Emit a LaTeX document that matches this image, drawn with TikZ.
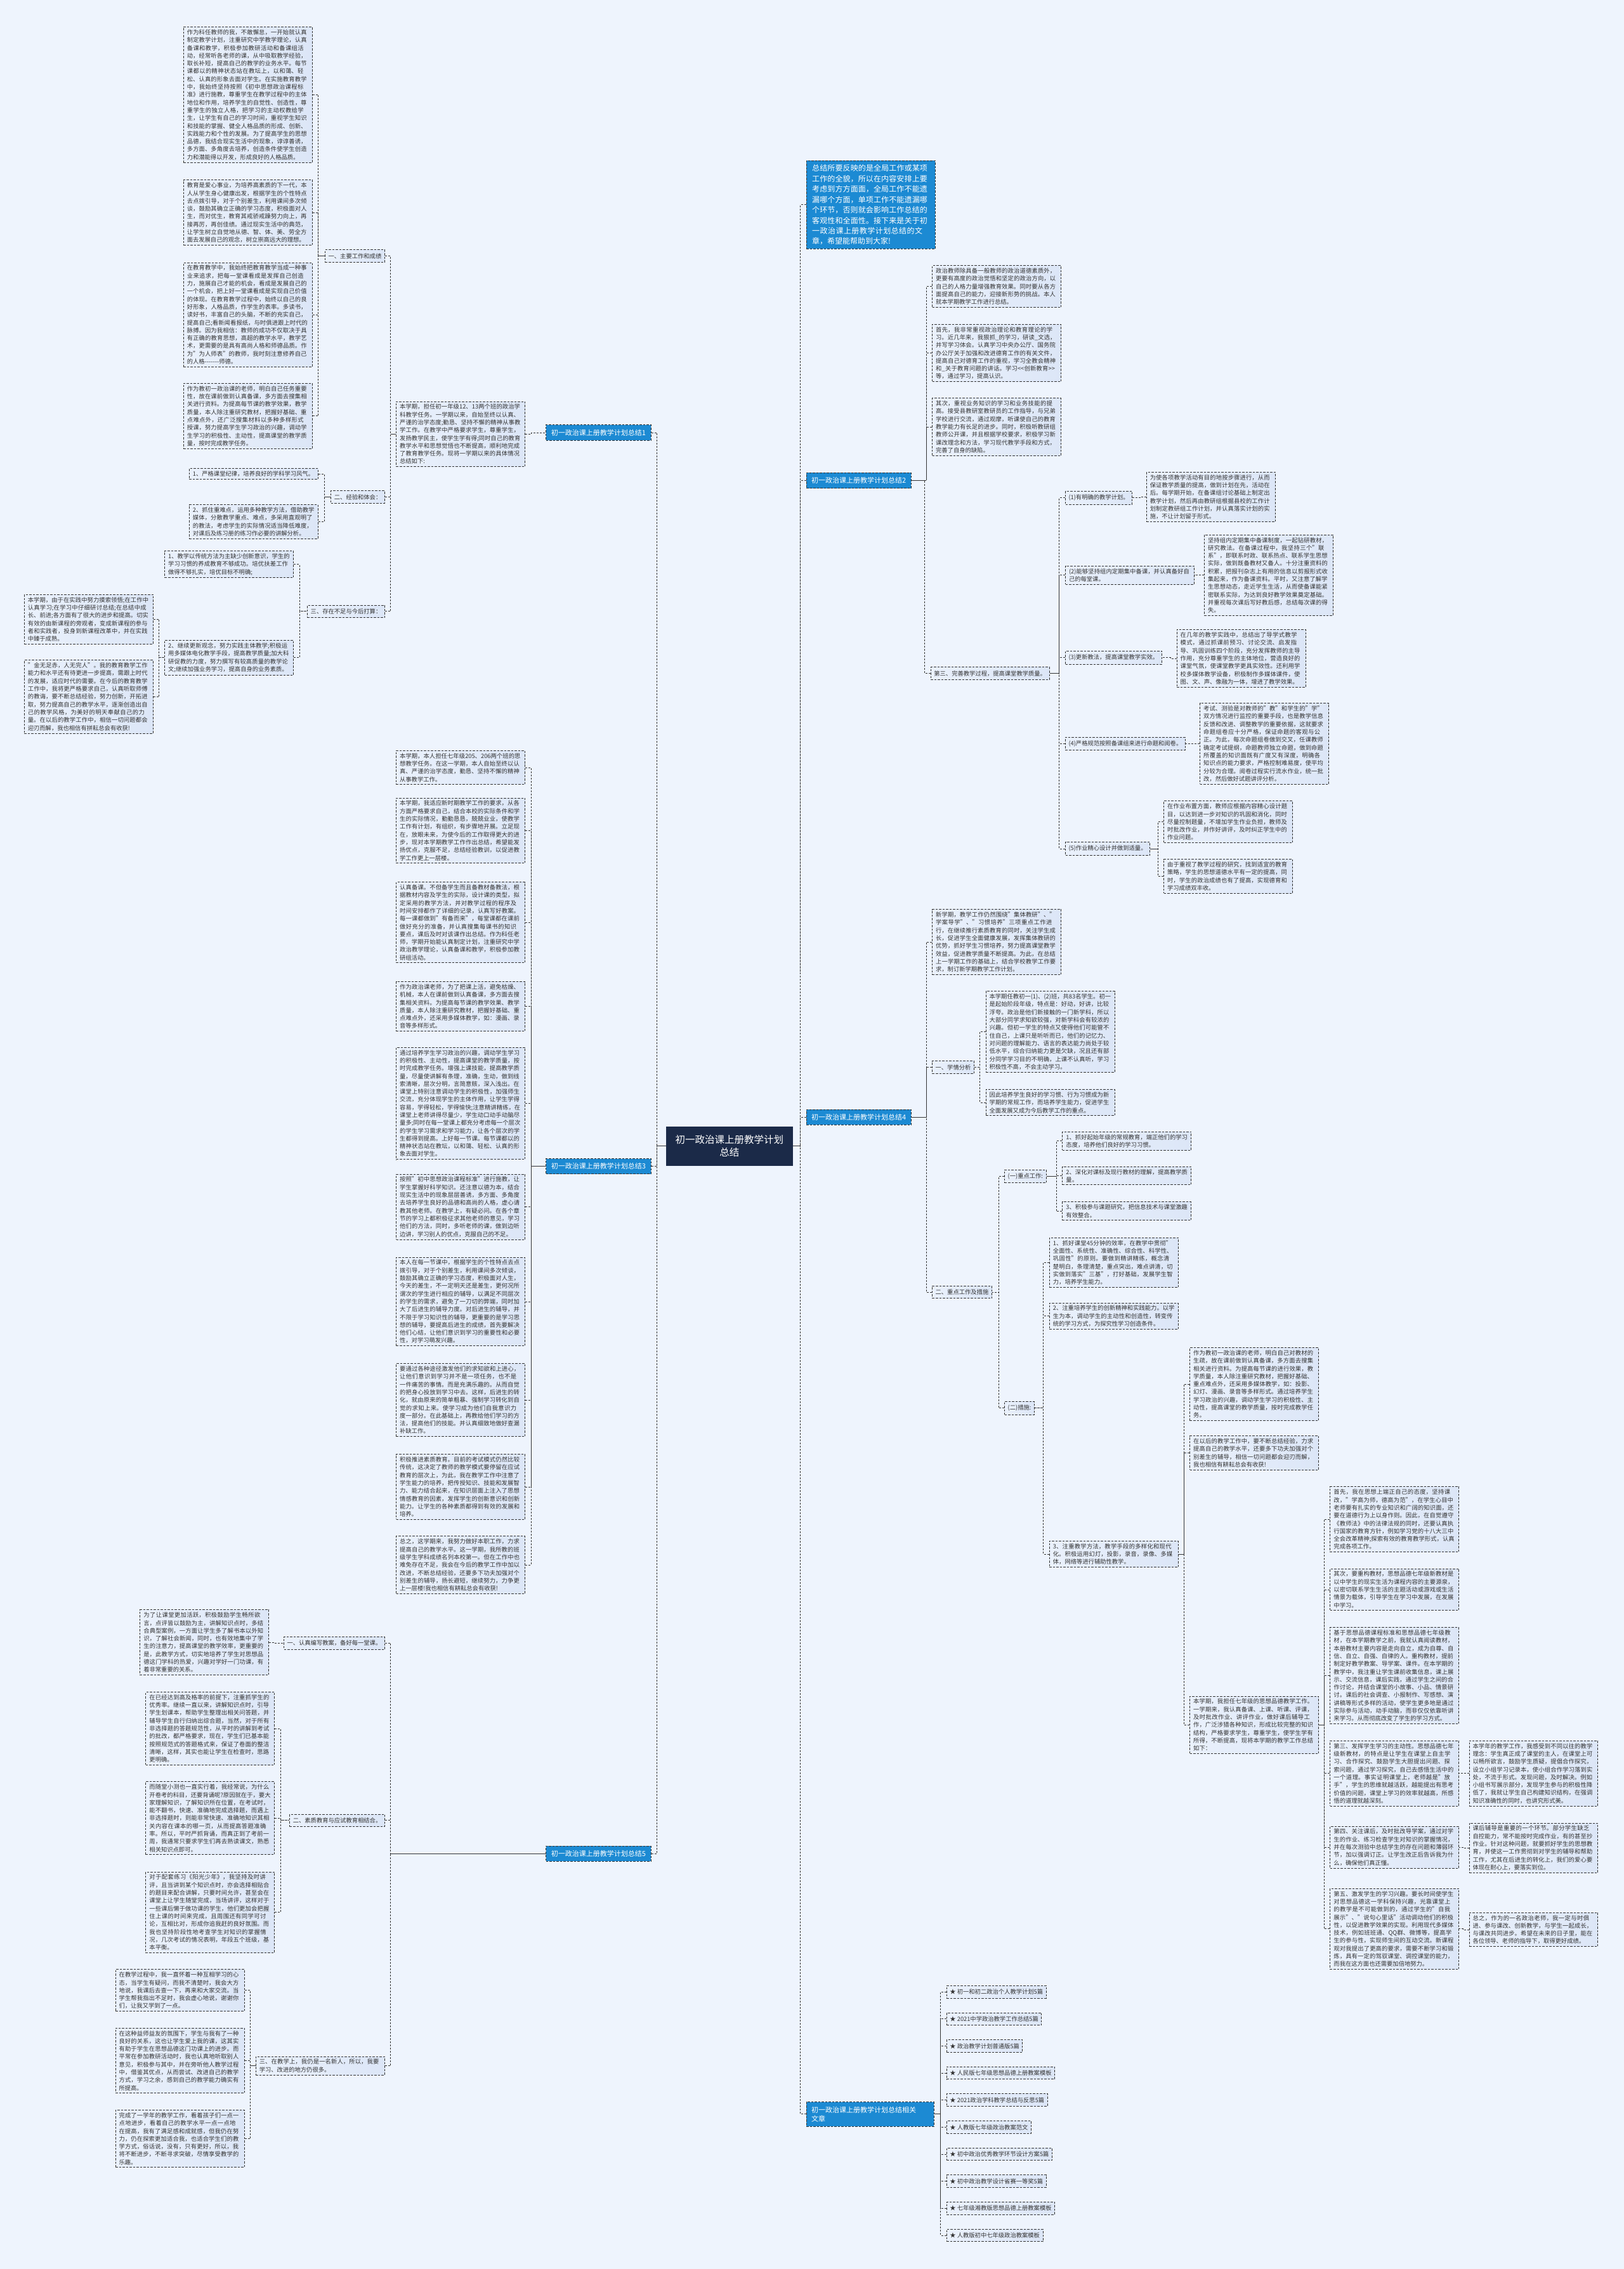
\documentclass[tikz,border=0pt]{standalone}
\usepackage{fontspec}
\setmainfont{Noto Sans CJK SC}
\XeTeXlinebreaklocale "zh"
\XeTeXlinebreakskip=0pt plus 1pt
\usetikzlibrary{positioning}
\definecolor{pagebg}{HTML}{EEF4FD}
\definecolor{boxleft}{HTML}{EAF1FC}
\definecolor{boxright}{HTML}{DCE6F7}
\definecolor{branchblue}{HTML}{1C8AD3}
\definecolor{rootnavy}{HTML}{1B2A48}
\definecolor{inkgray}{HTML}{333333}
\tikzset{
	textbox/.style={draw=inkgray, dash pattern=on 3.5pt off 2pt, line width=1pt, left color=boxleft, right color=boxright,
		text=inkgray, text width=192pt, inner xsep=5.5pt, inner ysep=4pt, align=left,
		font=\fontsize{9.3pt}{12.3pt}\selectfont}
}
\tikzset{
	labelbox/.style={draw=inkgray, dash pattern=on 3.5pt off 2pt, line width=1pt, left color=boxleft, right color=boxright,
		text=inkgray, inner xsep=5pt, inner ysep=5.5pt, font=\fontsize{9.3pt}{12.3pt}\selectfont}
}
\tikzset{
	branchbox/.style={draw=inkgray, dash pattern=on 3.5pt off 2pt, line width=1pt, fill=branchblue,
		text=white, inner xsep=8pt, inner ysep=7pt, font=\fontsize{11pt}{14pt}\selectfont},
	introbox/.style={branchbox, text width=185pt, inner xsep=9pt, inner ysep=6pt, align=left,
		font=\fontsize{12pt}{16.5pt}\selectfont},
	rootbox/.style={fill=rootnavy, text=white, align=center, minimum width=200pt, minimum height=62pt,
		font=\fontsize{15.5pt}{20pt}\selectfont},
	linkline/.style={draw=inkgray, dash pattern=on 3pt off 2pt, line width=0.9pt}
}

\begin{document}
\begin{tikzpicture}[x=2.2816pt, y=-2.2816pt]
      \useasboundingbox (0,0) rectangle (1122,1568);
      \fill[pagebg] (0,0) rectangle (1122,1568);
      % root
      \node[rootbox] (root) at (504,792) {初一政治课上册教学计划\\总结};

      % ---------- branch 1 ----------
      \node[branchbox, anchor=east] (l1) at (450,299) {初一政治课上册教学计划总结1};
      \node[textbox, anchor=east] (l1sum) at (363,300) {本学期，担任初一年级12、13两个班的政治学科教学任务。一学期以来，自始至终以认真、严谨的治学态度;勤恳、坚持不懈的精神从事教学工作。在教学中严格要求学生，尊重学生，发扬教学民主，使学生学有得;同时自己的教育教学水平和思想觉悟也不断提高，顺利地完成了教育教学任务。现将一学期以来的具体情况总结如下:};
      \node[labelbox, anchor=east] (l1g1) at (266,177) {一、主要工作和成绩};
      \node[labelbox, anchor=east] (l1g2) at (266,343.5) {二、经验和体会：};
      \node[labelbox, anchor=east] (l1g3) at (266,422.5) {三、存在不足与今后打算：};
      \node[textbox, anchor=east] (l1g1a) at (216,65.5) {作为科任教师的我，不敢懈怠，一开始就认真制定教学计划，注重研究中学教学理论，认真备课和教学，积极参加教研活动和备课组活动，经常听各老师的课，从中吸取教学经验，取长补短，提高自己的教学的业务水平。每节课都以的精神状态站在教坛上，以和蔼、轻松、认真的形象去面对学生。在实施教育教学中，我始终坚持按照《初中思想政治课程标准》进行施教，尊重学生在教学过程中的主体地位和作用，培养学生的自觉性、创造性，尊重学生的独立人格，把学习的主动权教给学生，让学生有自己的学习时间，重视学生知识和技能的掌握、健全人格品质的形成、创新、实践能力和个性的发展。为了提高学生的思想品德，我结合现实生活中的现象，谆谆善诱，多方面、多角度去培养，创造条件使学生创造力和潜能得以开发，形成良好的人格品质。};
      \node[textbox, anchor=east] (l1g1b) at (216,147) {教育是爱心事业，为培养高素质的下一代，本人从学生身心健康出发，根据学生的个性特点去点拨引导，对于个别差生，利用课间多次倾谈，鼓励其确立正确的学习态度，积极面对人生，而对优生，教育其戒骄戒躁努力向上，再接再厉，再创佳绩。通过现实生活中的典范，让学生树立自觉地从德、智、体、美、劳全方面去发展自己的观念，树立崇高远大的理想。};
      \node[textbox, anchor=east] (l1g1c) at (216,217.5) {在教育教学中，我始终把教育教学当成一种事业来追求，把每一堂课看成是发挥自己创造力，施展自己才能的机会，看成是发展自己的一个机会，把上好一堂课看成是实现自己价值的体现。在教育教学过程中，始终以自己的良好形象，人格品质，作学生的表率。多读书，读好书，丰富自己的头脑，不断的充实自己，提高自己;看新闻看报纸，与时俱进跟上时代的脉搏。因为我相信：教师的成功不仅取决于具有正确的教育思想，高超的教学水平，教学艺术，更需要的是具有高尚人格和师德品质。作为"为人师表"的教师，我时刻注意修养自己的人格-{}-{}-{}-{}-{}-{}-师德。};
      \node[textbox, anchor=east] (l1g1d) at (216,287.5) {作为教初一政治课的老师，明白自己任务重要性，故在课前做到认真备课，多方面去搜集相关进行资料。为提高每节课的教学效果，教学质量，本人除注重研究教材，把握好基础、重点难点外，还广泛搜集材料以多种多样形式授课，努力提高学生学习政治的兴趣，调动学生学习的积极性、主动性，提高课堂的教学质量，按时完成教学任务。};
      \node[textbox, anchor=east] (l1g2a) at (220,327.5) {1、严格课堂纪律，培养良好的学科学习风气。};
      \node[textbox, anchor=east] (l1g2b) at (220,360.5) {2、抓住重难点，运用多种教学方法，借助教学媒体，分散教学重点、难点，多采用直观明了的教法，考虑学生的实际情况适当降低难度，对课后及练习册的练习作必要的讲解分析。};
      \node[textbox, anchor=east] (l1g3a) at (203,390) {1、教学以传统方法为主缺少创新意识，学生的学习习惯的养成教育不够成功。培优扶差工作做得不够扎实，培优目标不明确;};
      \node[textbox, anchor=east] (l1g3b) at (203,454.5) {2、继续更新观念，努力实践主体教学;积极运用多媒体电化教学手段，提高教学质量;加大科研促教的力度，努力撰写有较高质量的教学论文;继续加强业务学习，提高自身的业务素质。};
      \node[textbox, anchor=east] (l1g3ba) at (106,428) {本学期，由于在实践中努力摸索领悟;在工作中认真学习;在学习中仔细研讨总结;在总结中成长、前进;各方面有了很大的进步和提高。切实有效的由新课程的旁观者，变成新课程的参与者和实践者，投身到新课程改革中，并在实践中臻于成熟。};
      \node[textbox, anchor=east] (l1g3bb) at (106,481.5) {"金无足赤，人无完人"。我的教育教学工作能力和水平还有待更进一步提高，需跟上时代的发展，适应时代的需要。在今后的教育教学工作中，我将更严格要求自己，认真听取师傅的教诲，要不断总结经验，努力创新，开拓进取，努力提高自己的教学水平，逐渐创造出自己的教学风格，为美好的明天奉献自己的力量。在以后的教学工作中，相信一切问题都会迎刃而解，我也相信有拼耘总会有收获!};
      \draw[linkline] (l1sum.east) -- ++(4,0) |- (l1.west);
      \foreach \n in {l1g1,l1g2,l1g3} \draw[linkline] (\n.east) -- ++(4,0) |- (l1sum.west);
      \foreach \n in {l1g1a,l1g1b,l1g1c,l1g1d} \draw[linkline] (\n.east) -- ++(4,0) |- (l1g1.west);
      \foreach \n in {l1g2a,l1g2b} \draw[linkline] (\n.east) -- ++(4,0) |- (l1g2.west);
      \foreach \n in {l1g3a,l1g3b} \draw[linkline] (\n.east) -- ++(4,0) |- (l1g3.west);
      \foreach \n in {l1g3ba,l1g3bb} \draw[linkline] (\n.east) -- ++(4,0) |- (l1g3b.west);

      % ---------- branch 3 ----------
      \node[branchbox, anchor=east] (l3) at (450,806) {初一政治课上册教学计划总结3};
      \node[textbox, anchor=east] (l3a) at (363,530.5) {本学期，本人担任七年级205、206两个班的思想教学任务。在这一学期，本人自始至终以认真、严谨的治学态度，勤恳、坚持不懈的精神从事教学工作。};
      \node[textbox, anchor=east] (l3b) at (363,574) {本学期，我适应新时期教学工作的要求，从各方面严格要求自己，结合本校的实际条件和学生的实际情况，勤勤恳恳，兢兢业业，使教学工作有计划，有组织，有步骤地开展。立足现在，放眼未来，为使今后的工作取得更大的进步，现对本学期教学工作作出总结，希望能发扬优点，克服不足，总结经验教训，以促进教学工作更上一层楼。};
      \node[textbox, anchor=east] (l3c) at (363,637.5) {认真备课。不但备学生而且备教材备教法，根据教材内容及学生的实际，设计课的类型，拟定采用的教学方法，并对教学过程的程序及时间安排都作了详细的记录，认真写好教案。每一课都做到"有备而来"，每堂课都在课前做好充分的准备，并认真搜集每课书的知识要点，课后及时对该课作出总结。作为科任老师，学期开始能认真制定计划，注重研究中学政治教学理论，认真备课和教学，积极参加教研组活动。};
      \node[textbox, anchor=east] (l3d) at (363,695.5) {作为政治课老师，为了把课上活，避免枯燥、机械，本人在课前做到认真备课，多方面去搜集相关资料。为提高每节课的教学效果、教学质量，本人除注重研究教材，把握好基础、重点难点外，还采用多媒体教学，如：漫画、录音等多样形式。};
      \node[textbox, anchor=east] (l3e) at (363,762.5) {通过培养学生学习政治的兴趣，调动学生学习的积极性、主动性，提高课堂的教学质量，按时完成教学任务。增强上课技能，提高教学质量，尽量使讲解有条理，准确，生动，做到线索清晰，层次分明，言简意赅，深入浅出。在课堂上特别注意调动学生的积极性，加强师生交流，充分体现学生的主体作用，让学生学得容易，学得轻松，学得愉快;注意精讲精练，在课堂上老师讲得尽量少，学生动口动手动脑尽量多;同时在每一堂课上都充分考虑每一个层次的学生学习需求和学习能力，让各个层次的学生都得到提高。上好每一节课。每节课都以的精神状态站在教坛，以和蔼、轻松、认真的形象去面对学生。};
      \node[textbox, anchor=east] (l3f) at (363,834) {按照"初中思想政治课程标准"进行施教，让学生掌握好科学知识。还注意以德为本，结合现实生活中的现象层层善诱，多方面、多角度去培养学生良好的品德和高尚的人格，虚心请教其他老师。在教学上，有疑必问。在各个章节的学习上都积极征求其他老师的意见，学习他们的方法，同时，多听老师的课，做到边听边讲，学习别人的优点，克服自己的不足。};
      \node[textbox, anchor=east] (l3g) at (363,899.5) {本人在每一节课中，根据学生的个性特点去点拨引导，对于个别差生，利用课间多次倾谈，鼓励其确立正确的学习态度，积极面对人生，今天的差生，不一定明天还是差生，更何况所谓次的学生进行相应的辅导，以满足不同层次的学生的需求，避免了一刀切的弊端，同时加大了后进生的辅导力度。对后进生的辅导，并不限于学习知识性的辅导，更重要的是学习思想的辅导，要提高后进生的成绩，首先要解决他们心结，让他们意识到学习的重要性和必要性，对学习萌发兴趣。};
      \node[textbox, anchor=east] (l3h) at (363,967.5) {要通过各种途径激发他们的求知欲和上进心，让他们意识到学习并不是一项任务，也不是一件痛苦的事情。而是充满乐趣的。从而自觉的把身心投放到学习中去。这样，后进生的转化，就由原来的简单粗暴、强制学习转化到自觉的求知上来。使学习成为他们自我意识力度一部分。在此基础上，再教给他们学习的方法，提高他们的技能。并认真细致地做好查漏补缺工作。};
      \node[textbox, anchor=east] (l3i) at (363,1027.5) {积极推进素质教育。目前的考试模式仍然比较传统，这决定了教师的教学模式要停留在应试教育的层次上，为此，我在教学工作中注意了学生能力的培养，把传授知识、技能和发展智力、能力结合起来，在知识层面上注入了思想情感教育的因素，发挥学生的创新意识和创新能力。让学生的各种素质都得到有效的发展和培养。};
      \node[textbox, anchor=east] (l3j) at (363,1081.5) {总之，这学期来，我努力做好本职工作，力求提高自己的教学水平。这一学期，我所教的班级学生学科成绩名列本校第一。但在工作中也难免存在不足，我会在今后的教学工作中加以改进，不断总结经验，还要多下功夫加强对个别差生的辅导，扬长避短，继续努力，力争更上一层楼!我也相信有耕耘总会有收获!};
      \foreach \n in {l3a,l3b,l3c,l3d,l3e,l3f,l3g,l3h,l3i,l3j} \draw[linkline] (\n.east) -- ++(4,0) |- (l3.west);

      % ---------- branch 5 ----------
      \node[branchbox, anchor=east] (l5) at (450,1281) {初一政治课上册教学计划总结5};
      \node[labelbox, anchor=east] (l5g1) at (266,1135.5) {一、认真编写教案，备好每一堂课。};
      \node[labelbox, anchor=east] (l5g2) at (266,1258) {二、素质教育与应试教育相结合。};
      \node[textbox, anchor=east] (l5g3) at (266,1427.5) {三、在教学上，我仍是一名新人，所以，我要学习、改进的地方仍很多。};
      \node[textbox, anchor=east] (l5g1a) at (186,1135) {为了让课堂更加活跃，积极鼓励学生畅所欲言，点评皆以鼓励为主，讲解知识点时，多结合典型案例，一方面让学生多了解书本以外知识，了解社会新闻，同时，也有效地集中了学生的注意力，提高课堂的教学效率，更重要的是，此教学方式，切实地培养了学生对思想品德这门学科的热爱，兴趣对学好一门功课，有着非常重要的关系。};
      \node[textbox, anchor=east] (l5g2a) at (190,1194.5) {在已经达到高及格率的前提下，注重抓学生的优秀率。继续一直以来，讲解知识点时，引导学生划课本，帮助学生整理出相关问答题，并辅导学生自行归纳出综合题，当然，对于所有非选择题的答题规范性，从平时的讲解到考试的批改，都严格要求，现在，学生们已基本能按照规范式的答题格式来，保证了卷面的整洁清晰，这样，其实也能让学生在检查时，思路更明确。};
      \node[textbox, anchor=east] (l5g2b) at (190,1256.5) {而随堂小测也一直实行着，我经常说，为什么开卷考的科目，还要背诵呢?原因就在于，要大家理解知识，了解知识所在位置，在考试时，能不翻书，快速、准确地完成选择题，而遇上非选择题时，则能非常快速、准确地知识其相关内容在课本的哪一页，从而提高答题准确率。所以，平时严抓背诵，而真正到了考前一周，我通常只要求学生们再去熟读课文，熟悉相关知识点即可。};
      \node[textbox, anchor=east] (l5g2c) at (190,1321.5) {对于配套练习《阳光少年》，我坚持及时讲评，且当讲到某个知识点时，亦会选择相贴合的题目来配合讲解，只要时间允许，甚至会在课堂上让学生随堂完成，当场讲评，这样对于一些课后懒于做功课的学生，他们更加会把握住上课的时间来完成，且周围还有同学可讨论，互相比对，形成你追我赶的良好氛围。而我也坚持阶段性地考查学生对知识的掌握情况，几次考试的情况表明，年段五个班级，基本平衡。};
      \node[textbox, anchor=east] (l5g3a) at (169,1375.5) {在教学过程中，我一直怀着一种互相学习的心态，当学生有疑问，而我不清楚时，我会大方地说，我课后去查一下，再来和大家交流。当学生帮我指出不足时，我会虚心地说，谢谢你们，让我又学到了一点。};
      \node[textbox, anchor=east] (l5g3b) at (169,1424) {在这种益师益友的氛围下，学生与我有了一种良好的关系，这也让学生爱上我的课，这其实有助于学生在思想品德这门功课上的进步。而平常在参加教研活动时，我也认真地听取别人意见，积极参与其中，并在旁听他人教学过程中，借鉴其优点，从而尝试、改进自己的教学方式，学习之余，感到自己的教学能力确实有所提高。};
      \node[textbox, anchor=east] (l5g3c) at (169,1478) {完成了一学年的教学工作，看着孩子们一点一点地进步，看着自己的教学水平一点一点地在提高，我有了满足感和成就感，但我仍在努力，仍在探索更加适合我，也适合学生们的教学方式，俗话说，没有，只有更好，所以，我将不断进步，不断寻求突破，尽情享受教学的乐趣。};
      \foreach \n in {l5g1,l5g2,l5g3} \draw[linkline] (\n.east) -- ++(4,0) |- (l5.west);
      \draw[linkline] (l5g1a.east) -- ++(4,0) |- (l5g1.west);
      \foreach \n in {l5g2a,l5g2b,l5g2c} \draw[linkline] (\n.east) -- ++(4,0) |- (l5g2.west);
      \foreach \n in {l5g3a,l5g3b,l5g3c} \draw[linkline] (\n.east) -- ++(4,0) |- (l5g3.west);

      % left trunk
      \foreach \n in {l1,l3,l5} \draw[linkline] (\n.east) -- ++(4,0) |- (root.west);

      % ---------- intro ----------
      \node[introbox, anchor=west] (intro) at (557,141.5) {总结所要反映的是全局工作或某项工作的全貌，所以在内容安排上要考虑到方方面面，全局工作不能遗漏哪个方面，单项工作不能遗漏哪个环节，否则就会影响工作总结的客观性和全面性。接下来是关于初一政治课上册教学计划总结的文章，希望能帮助到大家!};

      % ---------- branch 2 ----------
      \node[branchbox, anchor=west] (r2) at (557,332) {初一政治课上册教学计划总结2};
      \node[textbox, anchor=west] (r2a) at (644,198) {政治教师除具备一般教师的政治道德素质外，更要有高度的政治觉悟和坚定的政治方向，以自己的人格力量增强教育效果。同时要从各方面提高自己的能力，迎接新形势的挑战。本人就本学期教学工作进行总结。};
      \node[textbox, anchor=west] (r2b) at (644,244) {首先，我非常重视政治理论和教育理论的学习。近几年来，我狠抓\_的学习，研读\_文选，并写学习体会。认真学习中央办公厅、国务院办公厅关于加强和改进德育工作的有关文件，提高自己对德育工作的重视，学习全教会精神和\_关于教育问题的讲话。学习<{}<创新教育>{}>等，通过学习，提高认识。};
      \node[textbox, anchor=west] (r2c) at (644,295) {其次，重视业务知识的学习和业务技能的提高。接受县教研室教研员的工作指导，与兄弟学校进行交流，通过观摩，听课使自己的教育教学能力有长足的进步。同时，积极听教研组教师公开课，并且根据学校要求，积极学习新课改理念和方法，学习现代教学手段和方式，完善了自身的缺陷。};
      \node[labelbox, anchor=west] (r2d) at (643,465.5) {第三、完善教学过程，提高课堂教学质量。};
      \node[labelbox, anchor=west] (r2d1) at (736,344) {(1)有明确的教学计划。};
      \node[textbox, anchor=west] (r2d2) at (736,397.5) {(2)能够坚持组内定期集中备课，并认真备好自己的每堂课。};
      \node[labelbox, anchor=west] (r2d3) at (736,454.5) {(3)更新教法，提高课堂教学实效。};
      \node[labelbox, anchor=west] (r2d4) at (736,514) {(4)严格规范按照备课组来进行命题和阅卷。};
      \node[labelbox, anchor=west] (r2d5) at (736,586.5) {(5)作业精心设计并做到适量。};
      \node[textbox, anchor=west] (r2d1a) at (792,343.5) {为使各项教学活动有目的地按步骤进行，从而保证教学质量的提高，做到计划在先，活动在后。每学期开始，在备课组讨论基础上制定出教学计划，然后再由教研组根据县校的工作计划制定教研组工作计划，并认真落实计划的实施，不让计划留于形式。};
      \node[textbox, anchor=west] (r2d2a) at (832,397.5) {坚持组内定期集中备课制度，一起钻研教材，研究教法。在备课过程中，我坚持三个"联系"，即联系时政、联系热点、联系学生思想实际，做到既备教材又备人。十分注重资料的积累，把报刊杂志上有用的信息以剪报形式收集起来，作为备课资料。平时，又注意了解学生思想动态，走近学生生活，从而使备课能紧密联系实际，为达到良好教学效果奠定基础。并重视每次课后写好教后感，总结每次课的得失。};
      \node[textbox, anchor=west] (r2d3a) at (813,455) {在几年的教学实践中，总结出了导学式教学模式，通过抓课前预习、讨论交流、启发指导、巩固训练四个阶段，充分发挥教师的主导作用，充分尊重学生的主体地位，营造良好的课堂气氛，使课堂教学更具实效性。还利用学校多媒体教学设备，积极制作多媒体课件，使图、文、声、像融为一体，增进了教学效果。};
      \node[textbox, anchor=west] (r2d4a) at (829,514) {考试、测验是对教师的"教"和学生的"学"双方情况进行监控的重要手段，也是教学信息反馈和改进、调整教学的重要依据，这就要求命题组卷应十分严格，保证命题的客观与公正。为此，每次命题组卷做到交叉，任课教师确定考试提纲，命题教师独立命题，做到命题所覆盖的知识面既有广度又有深度，明确各知识点的能力要求，严格控制难易度，使平均分较为合理。阅卷过程实行流水作业，统一批改，然后做好试题讲评分析。};
      \node[textbox, anchor=west] (r2d5a) at (804,568) {在作业布置方面，教师应根据内容精心设计题目，以达到进一步对知识的巩固和消化，同时尽量控制题量，不增加学生作业负担，教师及时批改作业，并作好讲评，及时纠正学生中的作业问题。};
      \node[textbox, anchor=west] (r2d5b) at (804,605.5) {由于重视了教学过程的研究，找到适宜的教育策略，学生的思想道德水平有一定的提高，同时，学生的政治成绩也有了提高，实现德育和学习成绩双丰收。};
      \foreach \n in {r2a,r2b,r2c,r2d} \draw[linkline] (\n.west) -- ++(-4,0) |- (r2.east);
      \foreach \n in {r2d1,r2d2,r2d3,r2d4,r2d5} \draw[linkline] (\n.west) -- ++(-4,0) |- (r2d.east);
      \draw[linkline] (r2d1a.west) -- ++(-4,0) |- (r2d1.east);
      \draw[linkline] (r2d2a.west) -- ++(-4,0) |- (r2d2.east);
      \draw[linkline] (r2d3a.west) -- ++(-4,0) |- (r2d3.east);
      \draw[linkline] (r2d4a.west) -- ++(-4,0) |- (r2d4.east);
      \foreach \n in {r2d5a,r2d5b} \draw[linkline] (\n.west) -- ++(-4,0) |- (r2d5.east);

      % ---------- branch 4 ----------
      \node[branchbox, anchor=west] (r4) at (557,772) {初一政治课上册教学计划总结4};
      \node[textbox, anchor=west] (r4a) at (644,651) {新学期，教学工作仍然围绕"集体教研"、"学案导学"、"习惯培养"三项重点工作进行，在继续推行素质教育的同时，关注学生成长，促进学生全面健康发展，发挥集体教研的优势，抓好学生习惯培养，努力提高课堂教学效益，促进教学质量不断提高。为此，在总结上一学期工作的基础上，结合学校教学工作要求，制订新学期教学工作计划。};
      \node[labelbox, anchor=west] (r4b) at (644,737.5) {一、学情分析};
      \node[labelbox, anchor=west] (r4c) at (644,893) {二、重点工作及措施};
      \node[textbox, anchor=west] (r4b1) at (681,713) {本学期任教初一(1)、(2)班，共83名学生。初一是起始阶段年级，特点是：好动，好讲，比较浮夸。政治是他们新接触的一门新学科，所以大部分同学求知欲较强，对新学科会有较浓的兴趣。但初一学生的特点又使得他们可能管不住自己，上课只是听听而已，他们的记忆力、对问题的理解能力、语言的表达能力尚处于较低水平，综合归纳能力更是欠缺，况且还有部分同学学习目的不明确，上课不认真听，学习积极性不高，不会主动学习。};
      \node[textbox, anchor=west] (r4b2) at (681,762) {因此培养学生良好的学习惯、行为习惯成为新学期的常规工作，而培养学生能力，促进学生全面发展又成为今后教学工作的重点。};
      \node[labelbox, anchor=west] (r4c1) at (694,813) {(一)重点工作:};
      \node[labelbox, anchor=west] (r4c2) at (694,973) {(二)措施:};
      \node[textbox, anchor=west] (r4c1a) at (734,788.5) {1、抓好起始年级的常规教育，端正他们的学习态度，培养他们良好的学习习惯。};
      \node[textbox, anchor=west] (r4c1b) at (734,812.5) {2、深化对课标及现行教材的理解，提高教学质量。};
      \node[textbox, anchor=west] (r4c1c) at (734,837) {3、积极参与课题研究，把信息技术与课堂激趣有效整合。};
      \node[textbox, anchor=west] (r4c2a) at (725,872.5) {1、抓好课堂45分钟的效率，在教学中贯彻"全面性、系统性、准确性、综合性、科学性、巩固性"的原则。要做到精讲精练，概念清楚明白，条理清楚，重点突出，难点讲清，切实做到落实"三基"，打好基础，发展学生智力，培养学生能力。};
      \node[textbox, anchor=west] (r4c2b) at (725,909.5) {2、注重培养学生的创新精神和实践能力。以学生为本，调动学生的主动性和创造性，转变传统的学习方式，为探究性学习创造条件。};
      \node[textbox, anchor=west] (r4c2c) at (725,1074) {3、注重教学方法，教学手段的多样化和现代化。积极运用幻灯，投影，录音，录像、多媒体，网络等进行辅助性教学。};
      \node[textbox, anchor=west] (r4m1) at (822,956.5) {作为教初一政治课的老师，明白自己对教材的生疏，故在课前做到认真备课，多方面去搜集相关进行资料。为提高每节课的进行效果，教学质量，本人除注重研究教材，把握好基础、重点难点外，还采用多媒体教学，如：投影、幻灯、漫画、录音等多样形式。通过培养学生学习政治的兴趣，调动学生学习的积极性、主动性，提高课堂的教学质量，按时完成教学任务。};
      \node[textbox, anchor=west] (r4m2) at (822,1004) {在以后的教学工作中，要不断总结经验，力求提高自己的教学水平，还要多下功夫加强对个别差生的辅导，相信一切问题都会迎刃而解，我也相信有耕耘总会有收获!};
      \node[textbox, anchor=west] (r4m3) at (822,1192) {本学期，我担任七年级的思想品德教学工作。一学期来，我认真备课、上课、听课、评课，及时批改作业、讲评作业，做好课后辅导工作，广泛涉猎各种知识，形成比较完整的知识结构，严格要求学生，尊重学生，使学生学有所得，不断提高，现将本学期的教学工作总结如下：};
      \node[textbox, anchor=west] (r4x1) at (919,1050) {首先，我在思想上端正自己的态度，坚持课改，"学高为师，德高为范"，在学生心目中老师要有扎实的专业知识和广阔的知识面，还要在道德行为上以身作则。因此，在自觉遵守《教师法》中的法律法规的同时，还要认真执行国家的教育方针，例如学习党的十八大三中全会改革精神;探索有效的教育教学形式，认真完成各项工作。};
      \node[textbox, anchor=west] (r4x2) at (919,1098.5) {其次，要重构教材，思想品德七年级新教材是以中学生的现实生活为课程内容的主要源泉，以密切联系学生生活的主题活动或游戏或生活情景为载体，引导学生在学习中发展，在发展中学习。};
      \node[textbox, anchor=west] (r4x3) at (919,1158) {基于思想品德课程标准和思想品德七年级教材，在本学期教学之前，我就认真阅读教材，本册教材主要内容是走向自立，成为自尊、自信、自立、自强、自律的人。重构教材，提前制定好教学教案、导学案、课件。在本学期的教学中，我注重让学生课前收集信息，课上展示、交流信息，课后实践，通过学生之间的合作讨论，并结合课堂的小故事、小品、情景研讨。课后的社会调查、小报制作、写感想、演讲稿等形式多样的活动，使学生更多地是通过实际参与活动，动手动脑，而非仅仅依靠听讲来学习。从而彻底改变了学生的学习方式。};
      \node[textbox, anchor=west] (r4x4) at (919,1225.5) {第三、发挥学生学习的主动性。思想品德七年级新教材，的特点是让学生在课堂上自主学习、合作探究、鼓励学生大胆提出问题、探索问题，通过学习探究，自己去感悟生活中的一个道理。事实证明课堂上，老师越是"放手"，学生的思维就越活跃，越能提出有思考价值的问题，课堂上学习的效率就越高，所感悟的道理就越深刻。};
      \node[textbox, anchor=west] (r4x5) at (919,1276.5) {第四、关注课后，及时批改导学案，通过对学生的作业、练习检查学生对知识的掌握情况，并在每次测验中总结学生的存在问题和薄弱环节，加以强调订正。让学生改正后告诉我为什么，确保他们真正懂。};
      \node[textbox, anchor=west] (r4x6) at (919,1333) {第五、激发学生的学习兴趣。要长时间使学生对思想品德这一学科保持兴趣，光靠课堂上的教学是不可能做到的，通过学生的"自我展示"、"说句心里话"活动调动他们的积极性，以促进教学效果的实现。利用现代多媒体技术，例如班班通、QQ群、微博等，提高学生的参与性，实现师生间的互动交流。新课程观对我提出了更高的要求，需要不断学习和锻炼，具有一定的驾驭课堂、调控课堂的能力，而我在这方面也还需要加倍地努力。};
      \node[textbox, anchor=west] (r4x4a) at (1015,1225.5) {本学年的教学工作，我感受到不同以往的教学理念：学生真正成了课堂的主人，在课堂上可以畅所欲言，鼓励学生质疑，提倡合作探究，设立小组学习记录本，使小组合作学习落到实处，不流于形式。发现问题，及时解决。例如小组书写展示部分，发现学生参与的积极性降低了，我就让学生自己构建知识结构，在强调知识准确性的同时，也讲究形式美。};
      \node[textbox, anchor=west] (r4x5a) at (1015,1277) {课后辅导是重要的一个环节。部分学生缺乏自控能力，常不能按时完成作业，有的甚至抄作业。针对这种问题，就要抓好学生的思想教育，并使这一工作贯彻到对学生的辅导和帮助工作，尤其在后进生的转化上，我们的爱心要体现在耐心上，要落实到位。};
      \node[textbox, anchor=west] (r4x6a) at (1015,1333.5) {总之，作为的一名政治老师，我一定与时俱进、参与课改、创新教学，与学生一起成长，与课改共同进步。希望在未来的日子里，能在各位领导、老师的指导下，取得更好成绩。};
      \foreach \n in {r4a,r4b,r4c} \draw[linkline] (\n.west) -- ++(-4,0) |- (r4.east);
      \foreach \n in {r4b1,r4b2} \draw[linkline] (\n.west) -- ++(-4,0) |- (r4b.east);
      \foreach \n in {r4c1,r4c2} \draw[linkline] (\n.west) -- ++(-4,0) |- (r4c.east);
      \foreach \n in {r4c1a,r4c1b,r4c1c} \draw[linkline] (\n.west) -- ++(-4,0) |- (r4c1.east);
      \foreach \n in {r4c2a,r4c2b,r4c2c} \draw[linkline] (\n.west) -- ++(-4,0) |- (r4c2.east);
      \foreach \n in {r4m1,r4m2,r4m3} \draw[linkline] (\n.west) -- ++(-4,0) |- (r4c2c.east);
      \foreach \n in {r4x1,r4x2,r4x3,r4x4,r4x5,r4x6} \draw[linkline] (\n.west) -- ++(-4,0) |- (r4m3.east);
      \draw[linkline] (r4x4a.west) -- ++(-4,0) |- (r4x4.east);
      \draw[linkline] (r4x5a.west) -- ++(-4,0) |- (r4x5.east);
      \draw[linkline] (r4x6a.west) -- ++(-4,0) |- (r4x6.east);

      % ---------- related articles ----------
      \node[branchbox, anchor=west, text width=185pt, align=left] (r6) at (557,1461) {初一政治课上册教学计划总结相关\\文章};
      \foreach \t [count=\i] in {初一和初二政治个人教学计划5篇, 2021中学政治教学工作总结5篇,
          政治教学计划普通版5篇, 人民版七年级思想品德上册教案模板, 2021政治学科教学总结与反思5篇,
          人教版七年级政治教案范文, 初中政治优秀教学环节设计方案5篇, 初中政治教学设计省赛一等奖5篇,
          七年级湘教版思想品德上册教案模板, 人教版初中七年级政治教案模板} {
        \node[labelbox, anchor=west] (r6i\i) at (654,{1376.5+18.7*(\i-1)}) {★ \t};
        \draw[linkline] (r6i\i.west) -- ++(-4,0) |- (r6.east);
      }

      % right trunk
      \foreach \n in {intro,r2,r4,r6} \draw[linkline] (\n.west) -- ++(-4,0) |- (root.east);
    \end{tikzpicture}
\end{document}
